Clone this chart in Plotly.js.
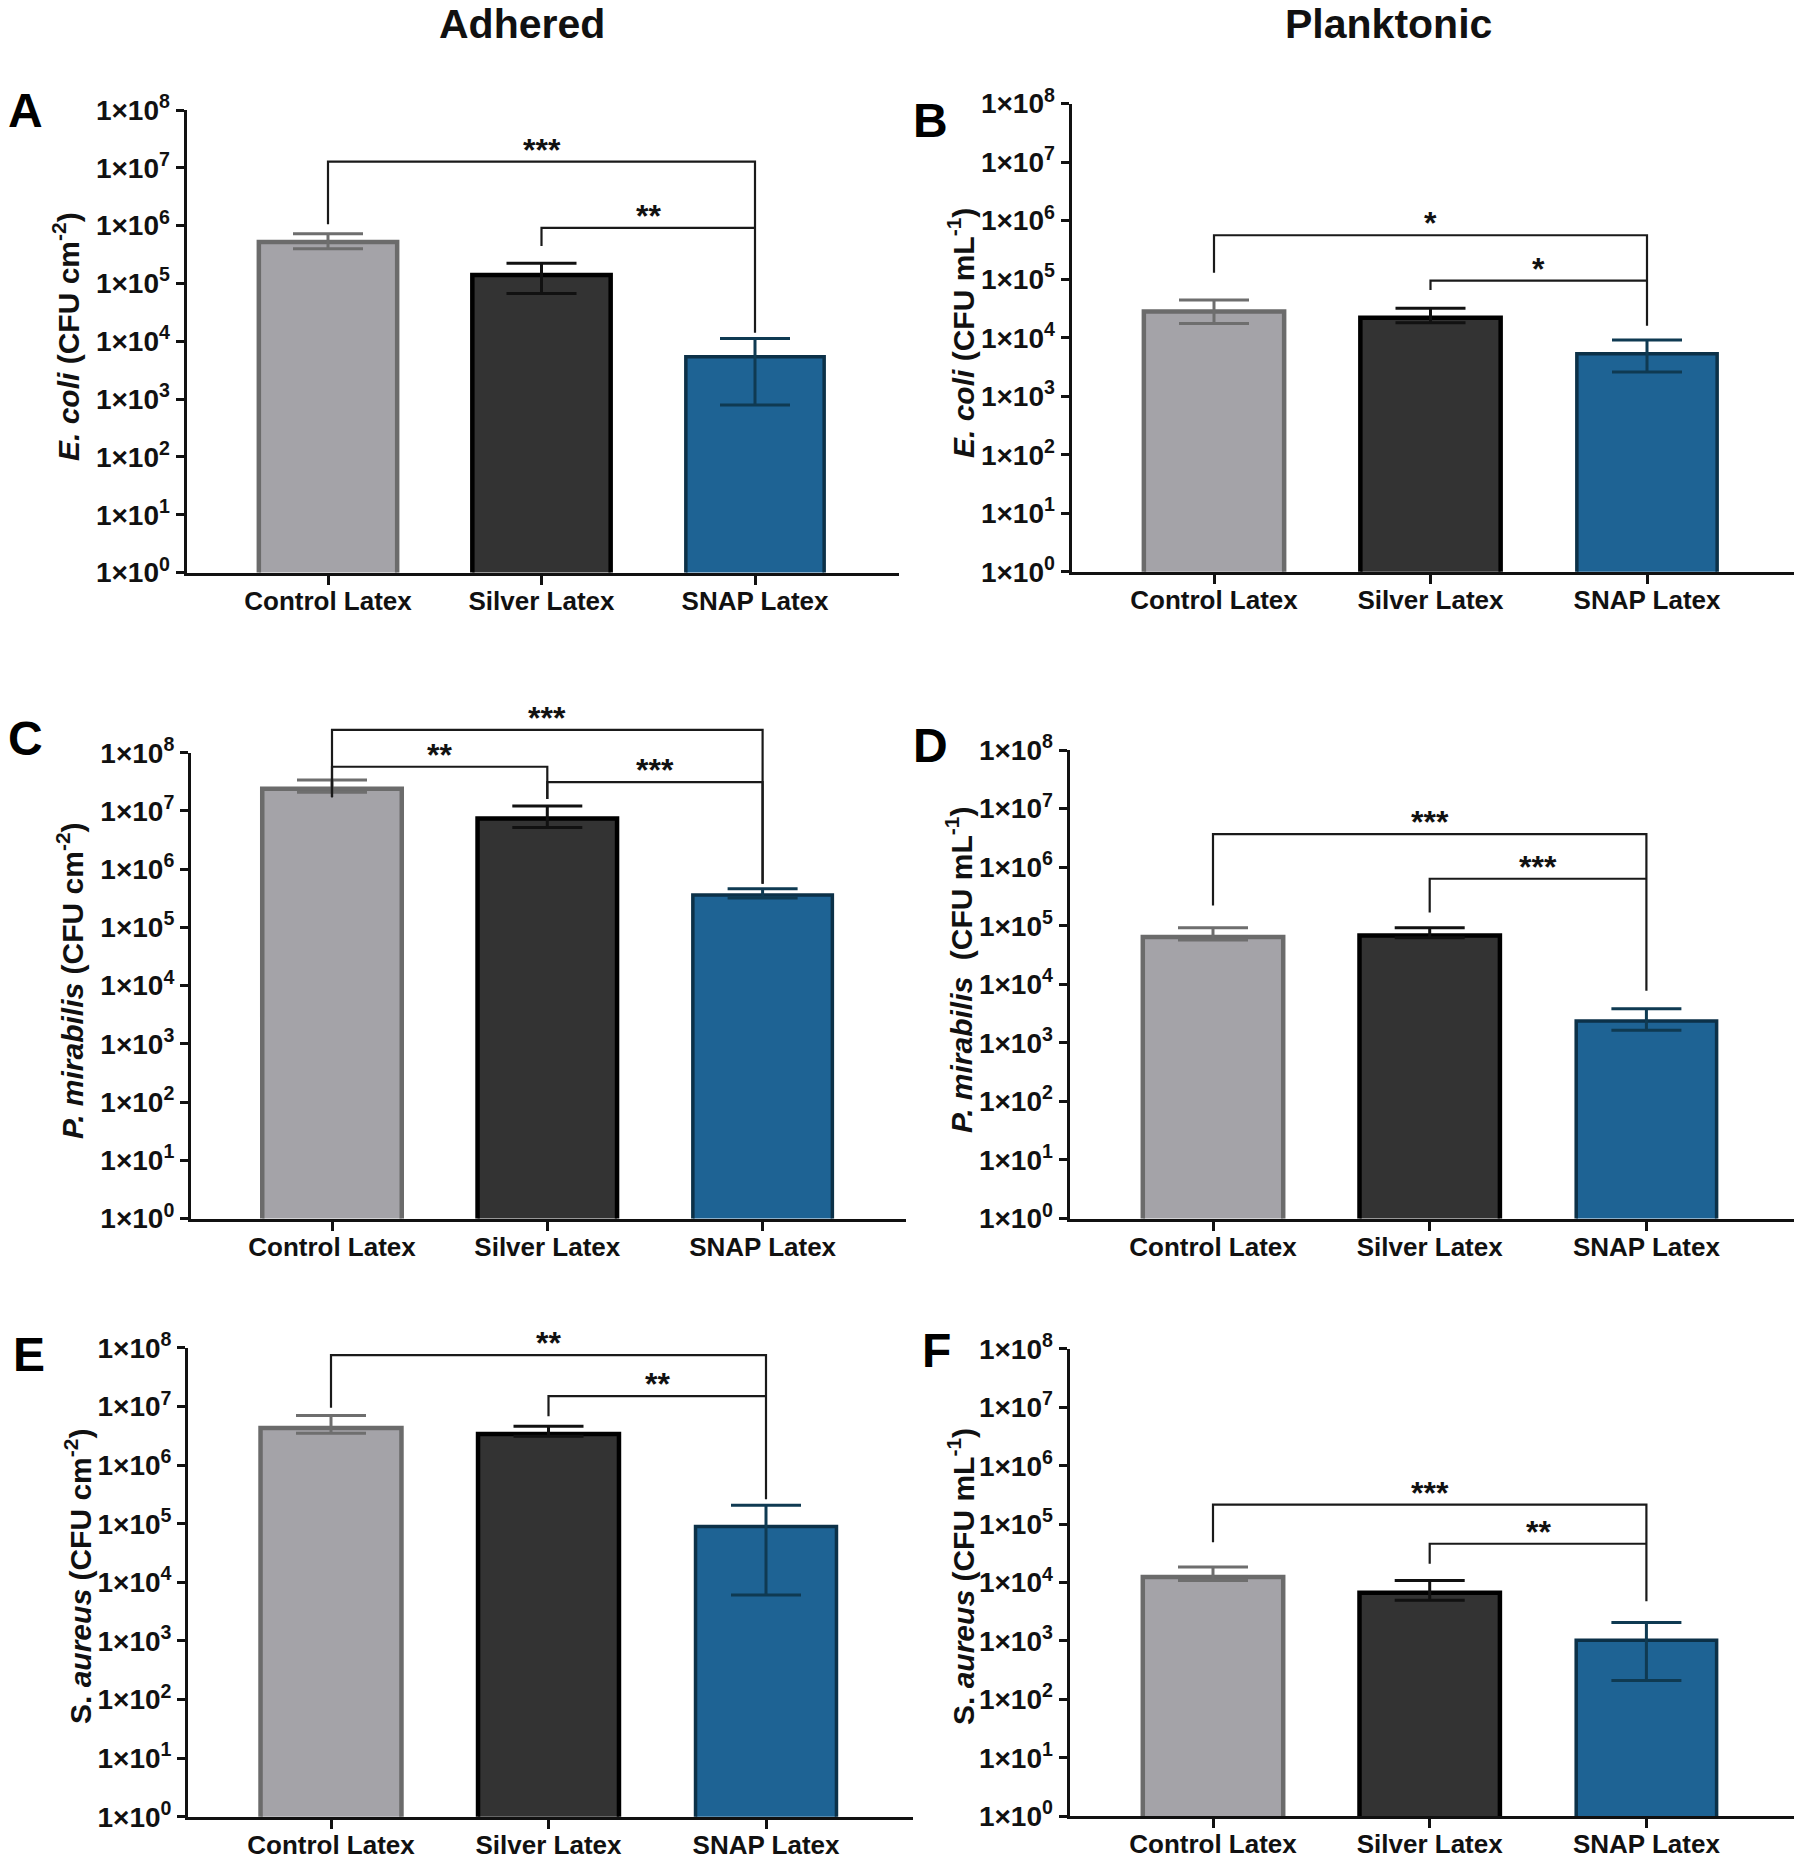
<!DOCTYPE html>
<html><head><meta charset="utf-8">
<script src="https://cdn.plot.ly/plotly-3.0.1.min.js"></script>
<style>html,body{margin:0;padding:0;background:#fff}#chart{width:1800px;height:1862px}</style>
</head><body><div id="chart"></div>
<script>
// ---------- data ----------
const categories = ['Control Latex', 'Silver Latex', 'SNAP Latex'];
const tickVals = [1, 10, 100, 1e3, 1e4, 1e5, 1e6, 1e7, 1e8];
const tickText = ['1×10<sup>0</sup>','1×10<sup>1</sup>','1×10<sup>2</sup>','1×10<sup>3</sup>','1×10<sup>4</sup>','1×10<sup>5</sup>','1×10<sup>6</sup>','1×10<sup>7</sup>','1×10<sup>8</sup>'];
const columnTitles = ['Adhered', 'Planktonic'];
const panelLetters = ['A', 'B', 'C', 'D', 'E', 'F'];
const yTitles = [
  '<i>E. coli</i> (CFU cm<sup>-2</sup>)',
  '<i>E. coli</i> (CFU mL<sup>-1</sup>)',
  '<i>P. mirabilis</i> (CFU cm<sup>-2</sup>)',
  '<i>P. mirabilis</i>  (CFU mL<sup>-1</sup>)',
  'S. <i>aureus</i> (CFU cm<sup>-2</sup>)',
  'S. <i>aureus</i> (CFU mL<sup>-1</sup>)'
];

// A: E. coli adhered
const ecoliAdhMean  = [5.2e5, 1.4e5, 5.4e3];
const ecoliAdhUpper = [7.2e5, 2.24e5, 1.12e4];
const ecoliAdhLower = [4.0e5, 6.7e4, 7.9e2];
// brackets: [from, to, height, left end, right end, label]
const ecoliAdhBrackets = [[0, 2, 1.27e7, 1.05e6, 1.4e4, '***'], [1, 2, 9.1e5, 4.4e5, 9.1e5, '**']];

// B: E. coli planktonic
const ecoliPlkMean  = [2.8e4, 2.2e4, 5.3e3];
const ecoliPlkUpper = [4.4e4, 3.2e4, 9.1e3];
const ecoliPlkLower = [1.74e4, 1.8e4, 2.6e3];
const ecoliPlkBrackets = [[0, 2, 5.6e5, 1.28e5, 1.6e4, '*'], [1, 2, 9.4e4, 6.5e4, 9.4e4, '*']];

// C: P. mirabilis adhered
const pmirAdhMean  = [2.4e7, 7.4e6, 3.6e5];
const pmirAdhUpper = [3.4e7, 1.22e7, 4.6e5];
const pmirAdhLower = [2.1e7, 5.2e6, 3.2e5];
const pmirAdhBrackets = [[0, 2, 2.44e8, 1.7e7, 5.6e5, '***'], [0, 1, 5.7e7, 1.7e7, 1.6e7, '**'], [1, 2, 3.1e7, 1.6e7, 5.6e5, '***']];

// D: P. mirabilis planktonic
const pmirPlkMean  = [6.4e4, 6.8e4, 2.35e3];
const pmirPlkUpper = [9.2e4, 9.2e4, 3.8e3];
const pmirPlkLower = [5.7e4, 6.2e4, 1.64e3];
const pmirPlkBrackets = [[0, 2, 3.65e6, 2.2e5, 7.7e3, '***'], [1, 2, 6.3e5, 1.67e5, 6.3e5, '***']];

// E: S. aureus adhered
const saurAdhMean  = [4.3e6, 3.4e6, 9.0e4];
const saurAdhUpper = [7.0e6, 4.6e6, 2.07e5];
const saurAdhLower = [3.5e6, 3.1e6, 6.1e3];
const saurAdhBrackets = [[0, 2, 7.5e7, 9.5e6, 2.6e5, '**'], [1, 2, 1.5e7, 6.8e6, 1.5e7, '**']];

// F: S. aureus planktonic
const saurPlkMean  = [1.25e4, 6.7e3, 1.03e3];
const saurPlkUpper = [1.85e4, 1.08e4, 2.07e3];
const saurPlkLower = [1.08e4, 5.0e3, 2.1e2];
const saurPlkBrackets = [[0, 2, 2.15e5, 4.9e4, 4.75e3, '***'], [1, 2, 4.6e4, 2.1e4, 4.6e4, '**']];

const panelMeans   = [ecoliAdhMean, ecoliPlkMean, pmirAdhMean, pmirPlkMean, saurAdhMean, saurPlkMean];
const panelUppers  = [ecoliAdhUpper, ecoliPlkUpper, pmirAdhUpper, pmirPlkUpper, saurAdhUpper, saurPlkUpper];
const panelLowers  = [ecoliAdhLower, ecoliPlkLower, pmirAdhLower, pmirPlkLower, saurAdhLower, saurPlkLower];
const panelBrackets = [ecoliAdhBrackets, ecoliPlkBrackets, pmirAdhBrackets, pmirPlkBrackets, saurAdhBrackets, saurPlkBrackets];

// ---------- styling / geometry ----------
const W = 1800, H = 1862;
const FONT = 'Arial, "Liberation Sans", Helvetica, sans-serif';
const INK = '#111111';
const fills = ['#a4a3a8', '#333333', '#1e6394'];
const edges = ['#6b6b6b', '#000000', '#0c3148'];
const edgeW = [4.5, 4.5, 3.5];
const errCols = ['#6e6e6e', '#111111', '#0f3a52'];

// pixel geometry of each panel (axis line x, right end, y of 1e0 and 1e8, first category px, spacing)
const geom = [
  {ax: 185,   right: 899,  yb: 574,    yt: 110,    c0: 328,  sp: 213.5, lx: 6,   ly: 111,  tx: 66,  ty: 337},
  {ax: 1070,  right: 1794, yb: 573.3,  yt: 103.6,  c0: 1214, sp: 216.5, lx: 911, ly: 120,  tx: 961, ty: 333},
  {ax: 189.4, right: 906,  yb: 1220,   yt: 752.7,  c0: 332,  sp: 215.3, lx: 6,   ly: 738,  tx: 70,  ty: 981},
  {ax: 1068,  right: 1794, yb: 1220,   yt: 750,    c0: 1213, sp: 216.7, lx: 911, ly: 745,  tx: 959, ty: 970},
  {ax: 186.6, right: 913,  yb: 1818.2, yt: 1347.9, c0: 331,  sp: 217.5, lx: 11,  ly: 1354, tx: 78,  ty: 1577},
  {ax: 1068,  right: 1794, yb: 1817.7, yt: 1348.9, c0: 1213, sp: 216.7, lx: 920, ly: 1350, tx: 961, ty: 1577}
];
const colTitlePos = [[522, 24], [1388, 24]];

const traces = [];
const layout = {
  width: W, height: H,
  margin: {l: 0, r: 0, t: 0, b: 0},
  paper_bgcolor: '#ffffff', plot_bgcolor: 'rgba(0,0,0,0)',
  showlegend: false, barmode: 'overlay',
  font: {family: FONT, color: INK},
  annotations: [], shapes: []
};

const LW = 3;
geom.forEach((g, i) => {
  const n = i + 1, nb = i + 7;
  const xdom = [(g.ax + LW / 2) / W, g.right / W];
  const ydom = [1 - (g.yb - LW / 2) / H, 1 - g.yt / H];
  const xr = [(g.ax + LW / 2 - g.c0) / g.sp, (g.right - g.c0) / g.sp];
  const dec = (g.yb - g.yt) / 8;
  const extra = 60;
  layout['xaxis' + n] = {
    domain: xdom, anchor: 'y' + n, type: 'category', categoryorder: 'array', categoryarray: categories,
    range: xr, showline: true, linewidth: LW, linecolor: INK, ticks: 'outside', ticklen: 9, tickwidth: 3,
    tickcolor: INK, tickfont: {family: FONT, size: 26, color: INK, weight: 'bold'}, ticklabelstandoff: -6,
    showgrid: false, zeroline: false, fixedrange: true
  };
  layout['yaxis' + n] = {
    domain: ydom, anchor: 'x' + n, type: 'log', range: [0, 8],
    tickvals: tickVals, ticktext: tickText, showline: true, linewidth: LW, linecolor: INK,
    ticks: 'outside', ticklen: 8, tickwidth: 3, tickcolor: INK,
    tickfont: {family: FONT, size: 28, color: INK, weight: 'bold'},
    showgrid: false, zeroline: false, fixedrange: true
  };
  // overlay subplot for significance brackets (extends above the axis top)
  layout['xaxis' + nb] = {domain: xdom, anchor: 'y' + nb, type: 'linear', range: xr, visible: false, fixedrange: true};
  layout['yaxis' + nb] = {domain: [ydom[0], 1 - (g.yt - extra) / H], anchor: 'x' + nb, type: 'log',
    range: [0, 8 + extra / dec], visible: false, fixedrange: true};

  const mean = panelMeans[i], up = panelUppers[i], lo = panelLowers[i];
  for (let j = 0; j < 3; j++) {
    traces.push({
      type: 'bar', x: [categories[j]], y: [mean[j]], xaxis: 'x' + n, yaxis: 'y' + n,
      width: 0.648,
      marker: {color: fills[j], line: {color: edges[j], width: edgeW[j]}},
      error_y: {type: 'data', symmetric: false, array: [up[j] - mean[j]], arrayminus: [mean[j] - lo[j]],
        color: errCols[j], thickness: 3, width: 35},
      hoverinfo: 'skip'
    });
  }
  panelBrackets[i].forEach(b => {
    const [a, c, h, l, r, lab] = b;
    traces.push({
      type: 'scatter', mode: 'lines', x: [a, a, c, c], y: [l, h, h, r],
      xaxis: 'x' + nb, yaxis: 'y' + nb,
      line: {color: '#1a1a1a', width: 2.2}, hoverinfo: 'skip'
    });
    layout.annotations.push({
      xref: 'x' + nb, yref: 'y' + nb, x: (a + c) / 2, y: Math.log10(h), text: lab,
      showarrow: false, xanchor: 'center', yanchor: 'middle', yshift: 12,
      font: {family: FONT, size: 32, color: INK, weight: 'bold'}
    });
  });
  // panel letter
  layout.annotations.push({
    xref: 'paper', yref: 'paper', x: g.lx / W, y: 1 - g.ly / H, text: panelLetters[i],
    showarrow: false, xanchor: 'left', yanchor: 'middle',
    font: {family: FONT, size: 48, color: '#000', weight: 'bold'}
  });
  // y axis title
  layout.annotations.push({
    xref: 'paper', yref: 'paper', x: g.tx / W, y: 1 - g.ty / H, text: yTitles[i],
    showarrow: false, textangle: -90, xanchor: 'center', yanchor: 'middle',
    font: {family: FONT, size: 30, color: INK, weight: 'bold'}
  });
});
columnTitles.forEach((t, k) => {
  layout.annotations.push({
    xref: 'paper', yref: 'paper', x: colTitlePos[k][0] / W, y: 1 - colTitlePos[k][1] / H, text: t,
    showarrow: false, xanchor: 'center', yanchor: 'middle',
    font: {family: FONT, size: 41, color: INK, weight: 'bold'}
  });
});

Plotly.newPlot('chart', traces, layout, {displayModeBar: false, staticPlot: true});
</script>
</body></html>
